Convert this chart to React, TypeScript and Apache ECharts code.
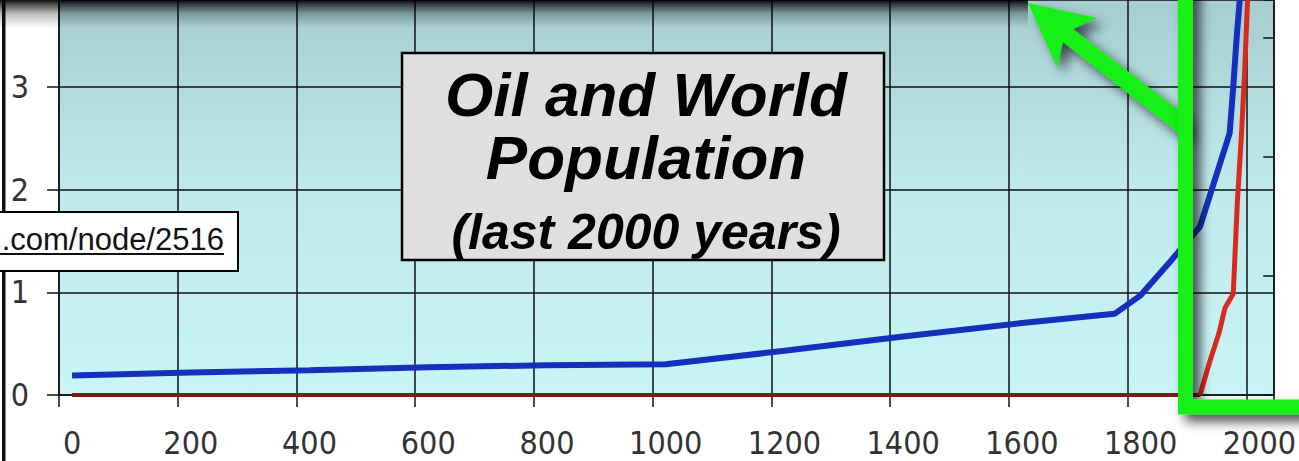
import React, { useEffect, useRef } from "react";
import * as echarts from "echarts";

// Tick labels (years) and axis settings
const yearTicks = [0, 200, 400, 600, 800, 1000, 1200, 1400, 1600, 1800, 2000];
const popTicks = [0, 1, 2, 3];

// World population (billions)
const popYears = [0, 200, 400, 600, 800, 1000, 1200, 1400, 1600, 1756, 1800, 1850, 1900, 1950, 1956, 1962, 1967, 1971, 2000];
const popValues = [0.19, 0.22, 0.24, 0.27, 0.29, 0.3, 0.43, 0.57, 0.7, 0.79, 0.97, 1.3, 1.64, 2.55, 3.0, 3.5, 3.85, 4.1, 6.1];

// Oil production (relative units, right axis)
const oilYears = [0, 1900, 1917, 1932, 1942, 1956, 1963, 1970, 1975, 1980, 1985];
const oilValues = [0, 0, 0.29, 0.52, 0.73, 0.85, 1.63, 2.2, 2.7, 3.3, 3.7];

const titleLines = ["Oil and World", "Population", "(last 2000 years)"];
const urlText = ".com/node/2516";

const AXIS_FONT = "'Liberation Sans Narrow', 'DejaVu Sans Condensed', 'Liberation Sans', Arial, sans-serif";
const TITLE_FONT = "'Liberation Sans', Arial, Helvetica, sans-serif";

export default function App() {
  const ref = useRef<HTMLDivElement>(null);

  useEffect(() => {
    if (!ref.current) return;
    const chart = echarts.init(ref.current, null, { renderer: "svg" });
    const green = "#12f012";

    const oilPts = oilYears.map((y, i) => [y, oilValues[i]]);
    const riseIdx = oilValues.findIndex((v, i) => i > 0 && v > 0) - 1;
    const oilFlat = oilPts.slice(0, riseIdx + 1);
    const oilRise = oilPts.slice(riseIdx);

    const axisLine = { show: true, onZero: false, lineStyle: { color: "#111", width: 1.5 } };

    const option: any = {
      animation: false,
      backgroundColor: "#ffffff",
      grid: {
        left: 59,
        right: 21,
        top: -3,
        bottom: 66,
        show: true,
        borderWidth: 0,
        backgroundColor: new echarts.graphic.LinearGradient(0, 0, 0, 1, [
          { offset: 0, color: "#a6cdd0" },
          { offset: 0.45, color: "#bee8eb" },
          { offset: 1, color: "#caf5f7" },
        ]),
      },
      xAxis: [
        {
          type: "value",
          min: 0,
          max: 2047,
          interval: 200,
          position: "bottom",
          axisLine,
          axisTick: { show: true, length: 12, lineStyle: { color: "#111", width: 1.5 } },
          splitLine: { show: true, lineStyle: { color: "#111", width: 1.5 } },
          axisLabel: { show: false },
        },
        {
          type: "value",
          min: -22,
          max: 2025,
          splitNumber: 10,
          position: "bottom",
          axisLine: { show: false, onZero: false },
          axisTick: { show: false },
          splitLine: { show: false },
          axisLabel: {
            show: true,
            showMinLabel: false,
            showMaxLabel: false,
            margin: 32,
            fontFamily: AXIS_FONT,
            fontSize: 32,
            color: "#333",
            formatter: (v: number) => (yearTicks.includes(v) ? String(v) : ""),
          },
        },
      ],
      yAxis: [
        {
          type: "value",
          min: 0,
          max: 3.845,
          interval: 1,
          position: "left",
          axisLine,
          axisTick: { show: true, length: 12, lineStyle: { color: "#111", width: 1.5 } },
          splitLine: { show: true, lineStyle: { color: "#111", width: 1.5 } },
          axisLabel: {
            show: true,
            showMaxLabel: false,
            margin: 30,
            fontFamily: AXIS_FONT,
            fontSize: 32,
            color: "#333",
            formatter: (v: number) => (popTicks.includes(v) ? String(v) : ""),
          },
        },
        {
          type: "value",
          min: 0,
          max: 3.317,
          interval: 1,
          position: "right",
          axisLine,
          axisTick: { show: true, inside: true, length: 11, lineStyle: { color: "#111", width: 1.5 } },
          splitLine: { show: false },
          axisLabel: { show: false },
        },
      ],
      series: [
        {
          name: "Oil",
          type: "line",
          xAxisIndex: 1,
          yAxisIndex: 1,
          data: oilFlat,
          showSymbol: false,
          symbol: "none",
          clip: true,
          lineStyle: { width: 4, color: "#7a1a16" },
          itemStyle: { color: "#7a1a16" },
          z: 3,
        },
        {
          name: "Oil ",
          type: "line",
          xAxisIndex: 1,
          yAxisIndex: 1,
          data: oilRise,
          showSymbol: false,
          symbol: "none",
          clip: true,
          lineStyle: { width: 5, color: "#d82a1e" },
          itemStyle: { color: "#d82a1e" },
          z: 3,
        },
        {
          name: "World Population",
          type: "line",
          xAxisIndex: 1,
          yAxisIndex: 0,
          data: popYears.map((y, i) => [y, popValues[i]]),
          showSymbol: false,
          symbol: "none",
          clip: true,
          lineStyle: { width: 6, color: "#1530bd" },
          itemStyle: { color: "#1530bd" },
          z: 4,
        },
      ],
      graphic: [
        { type: "rect", z: 50, shape: { x: 2, y: 0, width: 3.5, height: 461 }, style: { fill: "#111" } },
        {
          type: "rect",
          z: 50,
          shape: { x: 0, y: 0, width: 1028, height: 28 },
          style: {
            fill: new echarts.graphic.LinearGradient(0, 0, 0, 1, [
              { offset: 0, color: "rgba(0,0,0,0.95)" },
              { offset: 0.15, color: "rgba(0,0,0,0.7)" },
              { offset: 0.5, color: "rgba(0,0,0,0.25)" },
              { offset: 1, color: "rgba(0,0,0,0)" },
            ]),
          },
        },
        {
          type: "rect",
          z: 60,
          shape: { x: 402, y: 53, width: 482, height: 207 },
          style: { fill: "#dfdfdf", stroke: "#000", lineWidth: 2.5 },
        },
        {
          type: "text",
          z: 61,
          x: 646,
          y: 63,
          style: {
            text: `{a|${titleLines[0]}}\n{a|${titleLines[1]}}\n{b|${titleLines[2]}}`,
            align: "center",
            verticalAlign: "top",
            rich: {
              a: {
                fill: "#000",
                fontFamily: TITLE_FONT,
                fontStyle: "italic",
                fontWeight: "bold",
                fontSize: 62,
                lineHeight: 63,
                align: "center",
              },
              b: {
                fill: "#000",
                fontFamily: TITLE_FONT,
                fontStyle: "italic",
                fontWeight: "bold",
                fontSize: 50,
                lineHeight: 86,
                align: "center",
              },
            },
          },
        },
        {
          type: "rect",
          z: 60,
          shape: { x: -4, y: 212, width: 242, height: 59 },
          style: { fill: "#ffffff", stroke: "#000", lineWidth: 2 },
        },
        {
          type: "text",
          z: 61,
          x: 224,
          y: 239,
          style: {
            text: urlText,
            fill: "#111",
            font: `normal 31px ${TITLE_FONT}`,
            align: "right",
            verticalAlign: "middle",
          },
        },
        {
          type: "line",
          z: 61,
          shape: { x1: 0, y1: 254, x2: 224, y2: 254 },
          style: { stroke: "#111", lineWidth: 2 },
        },
        {
          type: "polygon",
          z: 70,
          shape: {
            points: [
              [1028, 3],
              [1097, 18],
              [1073, 29],
              [1186, 116],
              [1186, 139],
              [1063, 42],
              [1057, 67],
            ],
          },
          style: {
            fill: green,
            shadowBlur: 12,
            shadowColor: "rgba(0,0,0,0.65)",
            shadowOffsetX: 7,
            shadowOffsetY: 7,
          },
        },
        {
          type: "rect",
          z: 71,
          shape: { x: 1185.5, y: -40, width: 200, height: 447 },
          style: {
            fill: "none",
            stroke: green,
            lineWidth: 15,
            shadowBlur: 12,
            shadowColor: "rgba(0,0,0,0.7)",
            shadowOffsetX: 7,
            shadowOffsetY: 7,
          },
        },
      ],
    };

    chart.setOption(option);
    return () => chart.dispose();
  }, []);

  return (
    <div
      ref={ref}
      style={{ position: "absolute", left: 0, top: 0, width: 1299, height: 461 }}
    />
  );
}
